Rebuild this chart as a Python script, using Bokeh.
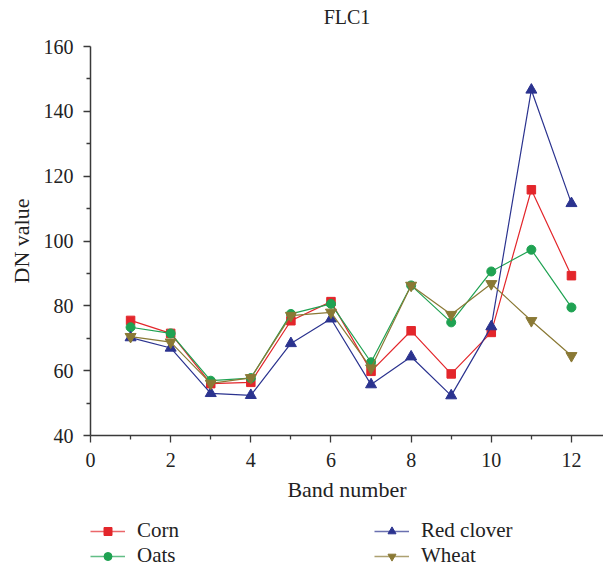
from bokeh.plotting import figure
from bokeh.models import Legend, LegendItem, Range1d, FixedTicker
from bokeh.layouts import column
from bokeh.embed import file_html
from bokeh.resources import INLINE

bands = [1, 2, 3, 4, 5, 6, 7, 8, 9, 10, 11, 12]
corn = [75.5, 71.5, 56.0, 56.4, 75.4, 81.3, 59.8, 72.3, 59.0, 71.8, 115.8, 89.3]
oats = [73.4, 71.5, 56.9, 57.7, 77.5, 80.6, 62.6, 86.3, 74.9, 90.6, 97.3, 79.5]
red_clover = [70.2, 67.0, 53.0, 52.4, 68.4, 76.0, 55.7, 64.3, 52.3, 73.6, 146.6, 111.6]
wheat = [70.5, 68.8, 56.1, 57.8, 77.0, 78.0, 60.8, 86.3, 77.3, 86.8, 75.4, 64.6]
x_ticks = [0, 2, 4, 6, 8, 10, 12]
y_ticks = [40, 60, 80, 100, 120, 140, 160]

FONT = "Liberation Serif"
TXT = "#222222"

# title strip
top = figure(output_backend="svg", toolbar_location=None, width=603, height=30,
             min_border=0, min_border_left=90, x_axis_location=None, y_axis_location=None,
             x_range=Range1d(0, 1), y_range=Range1d(0, 1), title="FLC1")
top.title.align = "center"
top.title.text_font = FONT
top.title.text_font_size = "20px"
top.title.text_font_style = "normal"
top.title.text_color = TXT
top.title.standoff = 6
top.outline_line_color = None
top.grid.visible = False

p = figure(output_backend="svg", toolbar_location=None,
           frame_width=513, frame_height=389,
           min_border_left=90, min_border_right=0, min_border_top=16, min_border_bottom=72,
           x_range=Range1d(0, 12.8), y_range=Range1d(40, 160))
p.outline_line_color = None
p.grid.visible = False

for ax in (p.xaxis[0], p.yaxis[0]):
    ax.axis_line_color = "#3a3a3a"
    ax.axis_line_width = 1.5
    ax.major_tick_line_color = "#3a3a3a"
    ax.minor_tick_line_color = "#3a3a3a"
    ax.major_tick_line_width = 1.3
    ax.minor_tick_line_width = 1.3
    ax.major_tick_in = 0
    ax.major_tick_out = 7
    ax.minor_tick_in = 0
    ax.minor_tick_out = 4
    ax.major_label_text_font = FONT
    ax.major_label_text_font_size = "20px"
    ax.major_label_text_color = TXT
    ax.axis_label_text_font = FONT
    ax.axis_label_text_font_size = "22px"
    ax.axis_label_text_font_style = "normal"
    ax.axis_label_text_color = TXT

p.xaxis.major_label_standoff = 10
p.xaxis.axis_label_standoff = 7
p.yaxis.major_label_standoff = 10
p.yaxis.axis_label_standoff = 7

p.xaxis.ticker = FixedTicker(ticks=x_ticks, minor_ticks=[1, 3, 5, 7, 9, 11])
p.yaxis.ticker = FixedTicker(ticks=y_ticks, minor_ticks=[50, 70, 90, 110, 130, 150])
p.xaxis.axis_label = "Band number"
p.yaxis.axis_label = "DN value"

series = [
    ("Corn", corn, "#e3262b", "square", 8.5, 7),
    ("Oats", oats, "#1fa252", "circle", 9, 7),
    ("Red clover", red_clover, "#2b338f", "triangle", 11, 9),
    ("Wheat", wheat, "#8a7935", "inverted_triangle", 11, 9),
]

# legend strip below the chart (its glyphs fall outside its own ranges, only the legend shows)
leg = figure(output_backend="svg", toolbar_location=None, width=603, height=61,
             min_border=0, min_border_left=90, x_axis_location=None, y_axis_location=None,
             x_range=Range1d(-1, 0), y_range=Range1d(-1, 0))
leg.outline_line_color = None
leg.grid.visible = False

items = []
for name, vals, col, marker, size, lsize in series:
    p.line(bands, vals, line_color=col, line_width=1.2)
    p.scatter(bands, vals, marker=marker, size=size, fill_color=col, line_color=col)
    lr = leg.line(bands, vals, line_color=col, line_width=1.5, line_alpha=0.7)
    sr = leg.scatter(bands, vals, marker=marker, size=lsize, fill_color=col, line_color=col)
    items.append(LegendItem(label=name, renderers=[lr, sr]))

legend = Legend(items=items, ncols=2, location=(0, 0),
                label_text_font=FONT, label_text_font_size="21px", label_text_color=TXT,
                glyph_width=35, glyph_height=20, label_height=20, label_width=237,
                label_standoff=12, spacing=0, padding=0, margin=0,
                border_line_color=None, background_fill_alpha=0)
leg.add_layout(legend, "center")

layout = column(top, p, leg, spacing=0)
open("out.html", "w").write(file_html(layout, INLINE))
